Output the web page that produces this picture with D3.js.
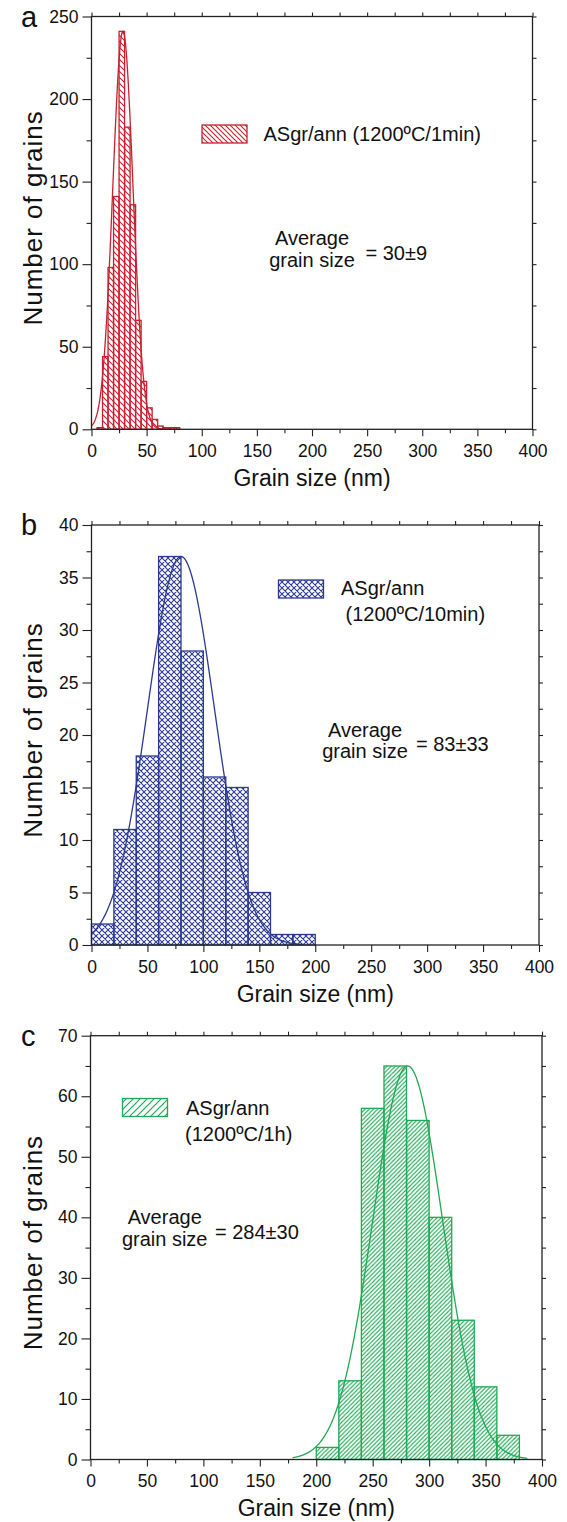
<!DOCTYPE html>
<html>
<head>
<meta charset="utf-8">
<script src="https://cdn.jsdelivr.net/npm/d3@7"></script>
<style>
  body { margin: 0; background: white; }
  text { font-family: 'Liberation Sans', Arial, sans-serif; fill: #111; }
</style>
</head>
<body>
<div id="chart"></div>
<script>
// ---- data ----
var x_ticks = [0, 50, 100, 150, 200, 250, 300, 350, 400];
var x_minor = [25, 75, 125, 175, 225, 275, 325, 375];

// panel a : 1200ºC / 1 min, 5 nm bins
var a_bin_start = [5, 10, 15, 20, 25, 30, 35, 40, 45, 50, 55, 60, 65, 70, 75];
var a_counts = [1, 44, 98, 141, 241, 183, 136, 66, 29, 13, 6, 2, 1, 1, 1];
var a_y_ticks = [0, 50, 100, 150, 200, 250];
var a_y_minor = [25, 75, 125, 175, 225];
var a_fit = [28.5, 9.2, 241];          // mean, sd, peak of the fitted curve
var a_fit_range = [0, 78];

// panel b : 1200ºC / 10 min, 20 nm bins
var b_bin_start = [0, 20, 40, 60, 80, 100, 120, 140, 160, 180];
var b_counts = [2, 11, 18, 37, 28, 16, 15, 5, 1, 1];
var b_y_ticks = [0, 5, 10, 15, 20, 25, 30, 35, 40];
var b_y_minor = [2.5, 7.5, 12.5, 17.5, 22.5, 27.5, 32.5, 37.5];
var b_fit = [80, 30, 37];
var b_fit_range = [0, 190];

// panel c : 1200ºC / 1 h, 20 nm bins
var c_bin_start = [200, 220, 240, 260, 280, 300, 320, 340, 360];
var c_counts = [2, 13, 58, 65, 56, 40, 23, 12, 4];
var c_y_ticks = [0, 10, 20, 30, 40, 50, 60, 70];
var c_y_minor = [5, 15, 25, 35, 45, 55, 65];
var c_fit = [281, 31, 65];
var c_fit_range = [179, 387];

var red = '#c8202f', blue = '#2b3990', green = '#1fa955';

var svg = d3.select('#chart').append('svg')
    .attr('width', 567).attr('height', 1522)
    .style('background', 'white');

// hatch patterns
var defs = svg.append('defs');
var make_pattern = function(id, size, color, path, sw){
    defs.append('pattern')
        .attr('id', id)
        .attr('patternUnits', 'userSpaceOnUse')
        .attr('width', size).attr('height', size)
        .append('path')
        .attr('d', path(size))
        .attr('stroke', color).attr('stroke-width', sw).attr('fill', 'none');
};
var back = function(s){ return 'M0,0L' + s + ',' + s + 'M-1,' + (s-1) + 'L1,' + (s+1) + 'M' + (s-1) + ',-1L' + (s+1) + ',1'; };
var fwd = function(s){ return 'M0,' + s + 'L' + s + ',0M-1,1L1,-1M' + (s-1) + ',' + (s+1) + 'L' + (s+1) + ',' + (s-1); };
var cross = function(s){ return back(s) + fwd(s); };

make_pattern('hatch_a', 6, red, back, 1.1);
make_pattern('hatch_a_leg', 5, red, back, 1.1);
make_pattern('hatch_b', 6, blue, cross, 1.1);
make_pattern('hatch_c', 4.2, green, fwd, 1.05);
make_pattern('hatch_c_leg', 7, green, fwd, 1.2);

var panel_generating = function(p){
    var x = d3.scaleLinear().domain([0, 400]).range([p.left, p.right]);
    var y = d3.scaleLinear().domain([0, p.y_max]).range([p.bottom, p.top]);
    var g = svg.append('g');

    // bars
    g.selectAll('rect.bar')
        .data(p.starts.map(function(s, i){ return {x0: s, x1: s + p.bin, n: p.counts[i]}; }))
        .enter()
        .append('rect')
        .attr('class', 'bar')
        .attr('x', function(d){ return x(d.x0); })
        .attr('y', function(d){ return y(d.n); })
        .attr('width', function(d){ return x(d.x1) - x(d.x0); })
        .attr('height', function(d){ return y(0) - y(d.n); })
        .attr('fill', 'url(#' + p.pattern + ')')
        .attr('stroke', p.color)
        .attr('stroke-width', 1.3);

    // fitted gaussian
    var pts = d3.range(p.fit_range[0], p.fit_range[1] + 0.01, 0.5).map(function(v){
        return [v, p.fit[2] * Math.exp(-Math.pow(v - p.fit[0], 2) / (2 * p.fit[1] * p.fit[1]))];
    });
    g.append('path').datum(pts)
        .attr('d', d3.line().x(function(d){ return x(d[0]); }).y(function(d){ return y(d[1]); }))
        .attr('fill', 'none').attr('stroke', p.color).attr('stroke-width', 1.3);

    // axes
    var fs = '17.5px';
    var bottom = g.append('g').attr('transform', 'translate(0,' + p.bottom + ')')
        .call(d3.axisBottom(x).tickValues(x_ticks).tickSize(7).tickSizeOuter(0).tickPadding(8.5));
    bottom.selectAll('text').style('font-size', fs);
    g.append('g').attr('transform', 'translate(0,' + p.bottom + ')')
        .call(d3.axisBottom(x).tickValues(x_minor).tickSize(4).tickSizeOuter(0).tickFormat(''));
    g.append('g').attr('transform', 'translate(0,' + p.top + ')')
        .call(d3.axisTop(x).tickValues(x_ticks.concat(x_minor)).tickSize(4).tickSizeOuter(0).tickFormat(''));

    var left = g.append('g').attr('transform', 'translate(' + p.left + ',0)')
        .call(d3.axisLeft(y).tickValues(p.y_ticks).tickSize(9).tickSizeOuter(0).tickPadding(4));
    left.selectAll('text').style('font-size', fs);
    g.append('g').attr('transform', 'translate(' + p.left + ',0)')
        .call(d3.axisLeft(y).tickValues(p.y_minor).tickSize(5).tickSizeOuter(0).tickFormat(''));
    g.append('g').attr('transform', 'translate(' + p.right + ',0)')
        .call(d3.axisRight(y).tickValues(p.y_ticks.concat(p.y_minor)).tickSize(4).tickSizeOuter(0).tickFormat(''));

    g.selectAll('.domain').remove();
    g.selectAll('.tick line').attr('stroke', '#222').attr('stroke-width', 1.1);
    g.selectAll('.tick text').style('font-family', "'Liberation Sans', Arial, sans-serif").attr('fill', '#111');

    g.append('rect')
        .attr('x', p.left).attr('y', p.top)
        .attr('width', p.right - p.left).attr('height', p.bottom - p.top)
        .attr('fill', 'none').attr('stroke', '#222').attr('stroke-width', 1.3);

    // titles
    g.append('text').attr('x', (p.left + p.right) / 2).attr('y', p.bottom + 56.5)
        .attr('text-anchor', 'middle').style('font-size', '23px').text('Grain size (nm)');
    g.append('text')
        .attr('transform', 'translate(42,' + ((p.top + p.bottom) / 2 - 5) + ') rotate(-90)')
        .attr('text-anchor', 'middle').style('font-size', '26px').style('letter-spacing', '1px')
        .text('Number of grains');
    g.append('text').attr('x', 21).attr('y', p.top + 10).style('font-size', '29px').text(p.letter);

    // legend
    g.append('rect')
        .attr('x', p.leg[0]).attr('y', p.leg[1]).attr('width', 45).attr('height', 18)
        .attr('fill', 'url(#' + p.leg_pattern + ')').attr('stroke', p.color).attr('stroke-width', 1.3);
    p.leg_text.forEach(function(t, i){
        g.append('text').attr('x', p.leg_text_x[i]).attr('y', p.leg_text_y[i])
            .style('font-size', '20px').text(t);
    });

    // average note
    g.append('text').attr('x', p.avg[0]).attr('y', p.avg[1]).attr('text-anchor', 'middle')
        .style('font-size', '20px').text('Average');
    g.append('text').attr('x', p.avg[0]).attr('y', p.avg[1] + 21.5).attr('text-anchor', 'middle')
        .style('font-size', '20px').text('grain size');
    g.append('text').attr('x', p.avg[2]).attr('y', p.avg[1] + 14.5)
        .style('font-size', '20px').text(p.avg_text);
};

panel_generating({
    letter: 'a', left: 91.5, right: 532.5, top: 16.5, bottom: 429.3, y_max: 250,
    y_ticks: a_y_ticks, y_minor: a_y_minor, starts: a_bin_start, counts: a_counts, bin: 5,
    fit: a_fit, fit_range: a_fit_range, color: red, pattern: 'hatch_a', leg_pattern: 'hatch_a_leg',
    leg: [202, 125], leg_text: ['ASgr/ann (1200ºC/1min)'], leg_text_x: [263.5], leg_text_y: [140.5],
    avg: [312, 245, 365.5], avg_text: '= 30±9'
});
panel_generating({
    letter: 'b', left: 91.5, right: 539, top: 525, bottom: 945, y_max: 40,
    y_ticks: b_y_ticks, y_minor: b_y_minor, starts: b_bin_start, counts: b_counts, bin: 20,
    fit: b_fit, fit_range: b_fit_range, color: blue, pattern: 'hatch_b', leg_pattern: 'hatch_b',
    leg: [278.5, 580], leg_text: ['ASgr/ann', '(1200ºC/10min)'], leg_text_x: [341, 345.5], leg_text_y: [595, 621],
    avg: [365, 736.5, 416], avg_text: '= 83±33'
});
panel_generating({
    letter: 'c', left: 90.5, right: 542, top: 1035.7, bottom: 1459.5, y_max: 70,
    y_ticks: c_y_ticks, y_minor: c_y_minor, starts: c_bin_start, counts: c_counts, bin: 20,
    fit: c_fit, fit_range: c_fit_range, color: green, pattern: 'hatch_c', leg_pattern: 'hatch_c_leg',
    leg: [122.5, 1098.5], leg_text: ['ASgr/ann', '(1200ºC/1h)'], leg_text_x: [186, 185], leg_text_y: [1115, 1141],
    avg: [164.7, 1224, 215], avg_text: '= 284±30'
});
</script>
</body>
</html>
